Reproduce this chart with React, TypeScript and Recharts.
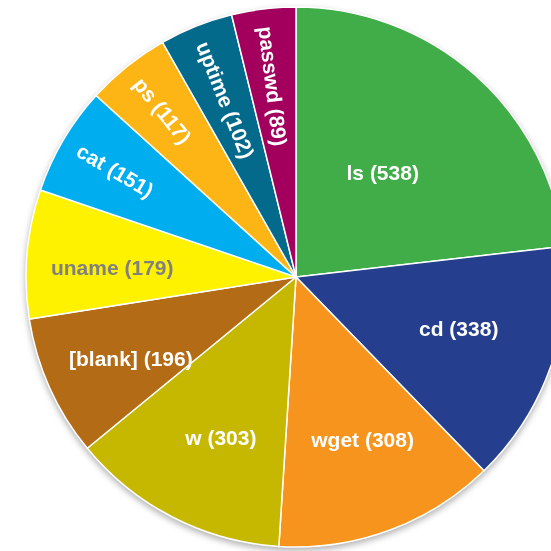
import React from 'react';
import { PieChart, Pie, Cell } from 'recharts';

const names = ['ls', 'cd', 'wget', 'w', '[blank]', 'uname', 'cat', 'ps', 'uptime', 'passwd'];
const counts = [538, 338, 308, 303, 196, 179, 151, 117, 102, 89];
const colors = ['#41ad49', '#253f8e', '#f7941d', '#c6b800', '#b36b15', '#fff200', '#00aeef', '#fdb515', '#046a8c', '#a3005e'];
const labelColors = ['#ffffff', '#ffffff', '#ffffff', '#ffffff', '#ffffff', '#808080', '#ffffff', '#ffffff', '#ffffff', '#ffffff'];

const data = names.map((n, i) => ({ name: n, value: counts[i] }));
const total = counts.reduce((a, b) => a + b, 0);
const RAD = Math.PI / 180;

const renderLabel = (props: any) => {
  const { cx, cy, midAngle, outerRadius, index, value } = props;
  const sweep = (value / total) * 360;
  const rotated = sweep < 25;
  const k = outerRadius / 270;
  const r = rotated ? outerRadius * 0.935 : k * Math.min(184, 230 - 1.13 * sweep);
  const ang = rotated ? midAngle : midAngle + 2;
  const x = cx + r * Math.cos(-ang * RAD);
  const y = cy + r * Math.sin(-ang * RAD);
  let rot = 0;
  if (rotated) {
    rot = (180 - midAngle) % 360;
    if (rot < 0) rot += 360;
  }
  return (
    <text
      x={x}
      y={y}
      fill={labelColors[index]}
      textAnchor={rotated ? 'start' : 'middle'}
      dominantBaseline="central"
      fontFamily="'Liberation Sans', Arial, sans-serif"
      fontWeight="bold"
      fontSize={21}
      transform={rotated ? `rotate(${rot} ${x} ${y})` : undefined}
    >
      {`${names[index]} (${value})`}
    </text>
  );
};

export default function App() {
  return (
    <div style={{ position: 'absolute', left: 0, top: 0, width: 551, height: 551, background: '#fff' }}>
      <div style={{ filter: 'drop-shadow(0px 3px 3px rgba(0,0,0,0.3))' }}>
        <PieChart width={551} height={551}>
          <Pie
            data={data}
            dataKey="value"
            cx={291}
            cy={272}
            outerRadius={270}
            innerRadius={0}
            startAngle={90}
            endAngle={-270}
            stroke="#ffffff"
            strokeWidth={1.5}
            label={renderLabel}
            labelLine={false}
            isAnimationActive={false}
          >
            {data.map((d, i) => (
              <Cell key={d.name} fill={colors[i]} />
            ))}
          </Pie>
        </PieChart>
      </div>
    </div>
  );
}
